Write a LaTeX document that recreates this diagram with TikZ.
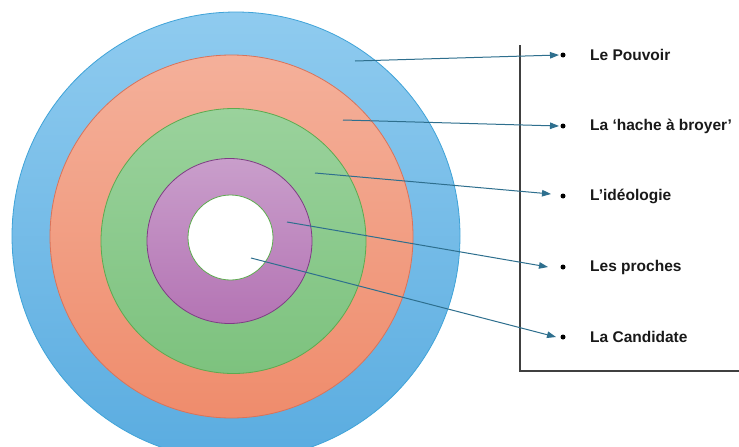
\documentclass[tikz,border=0pt]{standalone}
\usepackage{fontspec}
\setmainfont{Liberation Sans}
\usetikzlibrary{arrows.meta}
\definecolor{blueT}{HTML}{8FCBEF}
\definecolor{blueB}{HTML}{5AACE0}
\definecolor{blueE}{HTML}{3FA3D8}
\definecolor{oraT}{HTML}{F4B09A}
\definecolor{oraB}{HTML}{EF8C6C}
\definecolor{oraE}{HTML}{D9735A}
\definecolor{grnT}{HTML}{9AD29C}
\definecolor{grnB}{HTML}{7DC27E}
\definecolor{grnE}{HTML}{5DAA4F}
\definecolor{purT}{HTML}{C99ECB}
\definecolor{purB}{HTML}{B474B4}
\definecolor{purE}{HTML}{7E3D84}
\definecolor{arrowc}{HTML}{2E6F8E}
\definecolor{framec}{HTML}{404040}
\tikzset{
  ring/.style={line width=0.8pt},
  pointer/.style={draw=arrowc, line width=1pt, -{Triangle[length=9pt,width=6.5pt]}},
  bulletdot/.style={circle, fill=black, inner sep=0pt, minimum size=5pt},
  lbl/.style={anchor=west, inner sep=0pt, font=\fontsize{15.5}{18}\selectfont\bfseries, text=black!90},
  frameline/.style={draw=framec, line width=1.1pt}
}
\begin{document}
\begin{tikzpicture}[x=1pt, y=-1pt]
\useasboundingbox (0,0) rectangle (739,447);
\fill[white] (0,0) rectangle (739,447);
% rings
\shade[top color=blueT, bottom color=blueB, draw=blueE, ring] (236,236) circle (224);
\shade[top color=oraT, bottom color=oraB, draw=oraE, ring] (231.5,236.5) circle (181.5);
\shade[top color=grnT, bottom color=grnB, draw=grnE, ring] (233.5,241) circle (132.5);
\shade[top color=purT, bottom color=purB, draw=purE, ring] (229.5,241) circle (82.5);
\fill[white, draw=grnE, ring] (230.5,237.5) circle (42.5);
% frame
\coordinate (ftop) at (520,45);
\coordinate (fcorner) at (520,371);
\coordinate (fright) at (739,371);
\draw[frameline] (ftop) -- (fcorner) -- (fright);
% bullets and labels
\node[bulletdot] (b1) at (563,55) {};
\node[bulletdot] (b2) at (563,126) {};
\node[bulletdot] (b3) at (563,196) {};
\node[bulletdot] (b4) at (563,267) {};
\node[bulletdot] (b5) at (563,337) {};
\node[lbl] (l1) at (590,55) {Le Pouvoir};
\node[lbl] (l2) at (590,126) {La ‘hache à broyer’};
\node[lbl] (l3) at (590,196) {L’idéologie};
\node[lbl] (l4) at (590,267) {Les proches};
\node[lbl] (l5) at (590,337) {La Candidate};
% pointer starts and tips
\coordinate (s1) at (355,61);
\coordinate (s2) at (343,120);
\coordinate (s3) at (315,173);
\coordinate (s4) at (287,222);
\coordinate (s5) at (251,258);
\coordinate (t1) at (559,55);
\coordinate (t2) at (559,126);
\coordinate (t3) at (551,194);
\coordinate (t4) at (548,267);
\coordinate (t5) at (556,337);
\draw[pointer] (s1) -- (t1);
\draw[pointer] (s2) -- (t2);
\draw[pointer] (s3) -- (t3);
\draw[pointer] (s4) -- (t4);
\draw[pointer] (s5) -- (t5);
\end{tikzpicture}
\end{document}
